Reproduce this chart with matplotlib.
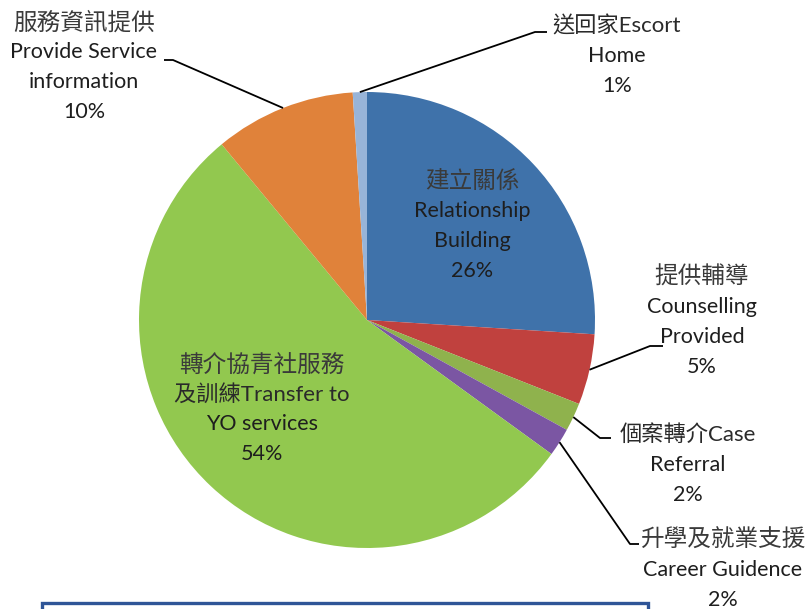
import matplotlib.pyplot as plt
import numpy as np
from matplotlib.patches import Rectangle

# slices, clockwise from 12 o'clock
names = ["Relationship Building", "Counselling Provided", "Case Referral", "Career Guidence",
         "Transfer to YO services", "Provide Service information", "Escort Home"]
values = [26, 5, 2, 2, 54, 10, 1]
colors = ["#3f72aa", "#c0413e", "#8fb24d", "#7b56a3", "#92c84f", "#e0823a", "#98b4d8"]

label_texts = [
    "建立關係\nRelationship\nBuilding\n26%",
    "提供輔導\nCounselling\nProvided\n5%",
    "個案轉介Case\nReferral\n2%",
    "升學及就業支援\nCareer Guidence\n2%",
    "轉介協青社服務\n及訓練Transfer to\nYO services\n54%",
    "服務資訊提供\nProvide Service\ninformation\n10%",
    "送回家Escort\nHome\n1%",
]

W, H = 806, 609
fig = plt.figure(figsize=(W / 100, H / 100), dpi=100)
ax = fig.add_axes([0, 0, 1, 1])

cx, cy, r = 367, H - 320, 228
wedges, _ = ax.pie(values, colors=colors, startangle=90, counterclock=False,
                   center=(cx, cy), radius=r, frame=True,
                   wedgeprops=dict(linewidth=0))
ax.set_xlim(0, W)
ax.set_ylim(0, H)
ax.set_aspect("equal")
ax.axis("off")

fam = ["Lato", "Noto Sans CJK TC"]


def is_cjk(ch):
    return ord(ch) > 0x2e80


# label centres (px from top) and leader knee/stub points
label_pos = [(472, 226), (702, 322), (688, 465), (723, 570), (262, 409), (84, 67), (617, 56)]
leaders = {1: [(650, 346), (663, 346)],
           2: [(600, 438), (611, 438)],
           3: [(630, 544), (639, 544)],
           5: [(173, 60), (164, 60)],
           6: [(535, 32), (547, 32)]}
step = 30

for i, w in enumerate(wedges):
    x, y = label_pos[i]
    lines = label_texts[i].split("\n")
    n = len(lines)
    for k, line in enumerate(lines):
        ly = y + (k - (n - 1) / 2) * step
        n_cjk = sum(is_cjk(c) for c in line)
        if n_cjk == len(line):
            fs, col = 17, "#3a3a3a"
        elif n_cjk:
            fs, col = 16, "#2a2a2a"
        else:
            fs, col = 15.5, "#1e1e1e"
        ax.text(x, H - ly, line, ha="center", va="center", fontsize=fs,
                family=fam, color=col)
    if i in leaders:
        mid = np.deg2rad((w.theta1 + w.theta2) / 2)
        pts = [(cx + r * np.cos(mid), cy + r * np.sin(mid))]
        pts += [(px, H - py) for px, py in leaders[i]]
        xs, ys = zip(*pts)
        ax.plot(xs, ys, color="black", lw=1.3, solid_capstyle="butt")

# cut-off text box at the bottom
ax.add_patch(Rectangle((42, -30), 606, H - 603 + 30, fill=False,
                       edgecolor="#2f5597", linewidth=2.4, clip_on=False))

fig.savefig("out.png", dpi=100)
